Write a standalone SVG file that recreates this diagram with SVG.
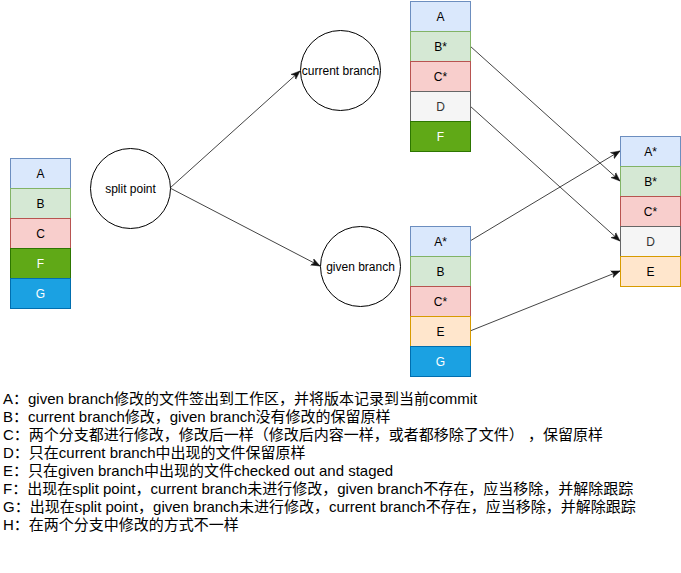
<svg xmlns="http://www.w3.org/2000/svg" width="681" height="573" viewBox="0 0 681 573">
<defs>
<style>
.t{font-family:"Liberation Sans","Noto Sans CJK SC",Arial,sans-serif;font-size:12px;text-anchor:middle;dominant-baseline:central;fill:#000}
.w{fill:#fff}
.g{fill:#333}
.blue{fill:#dae8fc;stroke:#6c8ebf}
.green{fill:#d5e8d4;stroke:#82b366}
.red{fill:#f8cecc;stroke:#b85450}
.dgreen{fill:#60a917;stroke:#2d7600}
.dblue{fill:#1ba1e2;stroke:#006eaf}
.gray{fill:#f5f5f5;stroke:#666666}
.orange{fill:#ffe6cc;stroke:#d79b00}
.circ{fill:#fff;stroke:#000}
.edge{fill:none;stroke:#444;stroke-width:1;marker-end:url(#arr)}
.note{font-family:"Liberation Sans","Noto Sans CJK SC",Arial,sans-serif;font-size:15px;fill:#000}
</style>
<marker id="arr" markerWidth="10" markerHeight="8" refX="9" refY="4" orient="auto" markerUnits="userSpaceOnUse">
<path d="M0,0.5 L9,4 L0,7.5 L2.5,4 Z" fill="#111" stroke="#111" stroke-width="0.5"/>
</marker>
</defs>
<rect width="681" height="573" fill="#fff"/>

<g id="connectors">
<path class="edge" d="M170,188 L300,71"/>
<path class="edge" d="M170,188 L320,266"/>
<path class="edge" d="M470,46 L620,181"/>
<path class="edge" d="M470,106 L620,241"/>
<path class="edge" d="M470,241 L620,151"/>
<path class="edge" d="M470,331 L620,271"/>
</g>

<g id="nodes" transform="translate(0.5,0.5)">
<g id="sp-A"><rect class="blue" x="10" y="158" width="60" height="30"/><text class="t" x="40" y="173">A</text></g>
<g id="sp-B"><rect class="green" x="10" y="188" width="60" height="30"/><text class="t" x="40" y="203">B</text></g>
<g id="sp-C"><rect class="red" x="10" y="218" width="60" height="30"/><text class="t" x="40" y="233">C</text></g>
<g id="sp-F"><rect class="dgreen" x="10" y="248" width="60" height="30"/><text class="t w" x="40" y="263">F</text></g>
<g id="sp-G"><rect class="dblue" x="10" y="278" width="60" height="30"/><text class="t w" x="40" y="293">G</text></g>

<g id="split-point"><circle class="circ" cx="130" cy="188" r="40"/><text class="t" x="130" y="188">split point</text></g>
<g id="current-branch"><circle class="circ" cx="340" cy="70" r="40"/><text class="t" x="340" y="70">current branch</text></g>
<g id="given-branch"><circle class="circ" cx="360" cy="266" r="40"/><text class="t" x="360" y="266">given branch</text></g>

<g id="cb-A"><rect class="blue" x="410" y="1" width="60" height="30"/><text class="t" x="440" y="16">A</text></g>
<g id="cb-B"><rect class="green" x="410" y="31" width="60" height="30"/><text class="t" x="440" y="46">B*</text></g>
<g id="cb-C"><rect class="red" x="410" y="61" width="60" height="30"/><text class="t" x="440" y="76">C*</text></g>
<g id="cb-D"><rect class="gray" x="410" y="91" width="60" height="30"/><text class="t g" x="440" y="106">D</text></g>
<g id="cb-F"><rect class="dgreen" x="410" y="121" width="60" height="30"/><text class="t w" x="440" y="136">F</text></g>

<g id="gb-A"><rect class="blue" x="410" y="226" width="60" height="30"/><text class="t" x="440" y="241">A*</text></g>
<g id="gb-B"><rect class="green" x="410" y="256" width="60" height="30"/><text class="t" x="440" y="271">B</text></g>
<g id="gb-C"><rect class="red" x="410" y="286" width="60" height="30"/><text class="t" x="440" y="301">C*</text></g>
<g id="gb-E"><rect class="orange" x="410" y="316" width="60" height="30"/><text class="t" x="440" y="331">E</text></g>
<g id="gb-G"><rect class="dblue" x="410" y="346" width="60" height="30"/><text class="t w" x="440" y="361">G</text></g>

<g id="m-A"><rect class="blue" x="620" y="136" width="60" height="30"/><text class="t" x="650" y="151">A*</text></g>
<g id="m-B"><rect class="green" x="620" y="166" width="60" height="30"/><text class="t" x="650" y="181">B*</text></g>
<g id="m-C"><rect class="red" x="620" y="196" width="60" height="30"/><text class="t" x="650" y="211">C*</text></g>
<g id="m-D"><rect class="gray" x="620" y="226" width="60" height="30"/><text class="t g" x="650" y="241">D</text></g>
<g id="m-E"><rect class="orange" x="620" y="256" width="60" height="30"/><text class="t" x="650" y="271">E</text></g>
</g>

<g id="notes">
<text class="note" x="3" y="404">A：given branch修改的文件签出到工作区，并将版本记录到当前commit</text>
<text class="note" x="3" y="422">B：current branch修改，given branch没有修改的保留原样</text>
<text class="note" x="3" y="440">C：两个分支都进行修改，修改后一样（修改后内容一样，或者都移除了文件） ，保留原样</text>
<text class="note" x="3" y="458">D：只在current branch中出现的文件保留原样</text>
<text class="note" x="3" y="476">E：只在given branch中出现的文件checked out and staged</text>
<text class="note" x="3" y="494">F：出现在split point，current branch未进行修改，given branch不存在，应当移除，并解除跟踪</text>
<text class="note" x="3" y="512">G：出现在split point，given branch未进行修改，current branch不存在，应当移除，并解除跟踪</text>
<text class="note" x="3" y="530">H：在两个分支中修改的方式不一样</text>
</g>
</svg>
